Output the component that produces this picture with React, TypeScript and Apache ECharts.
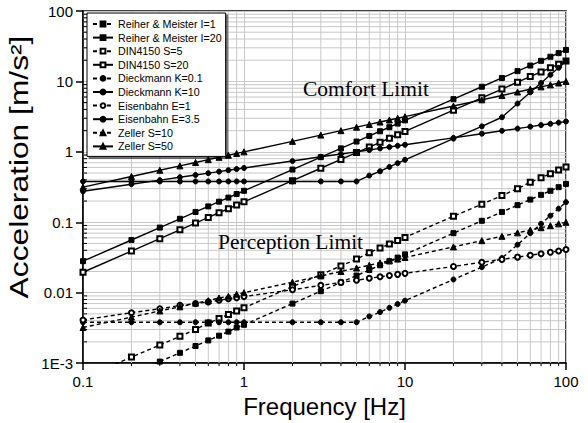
import React, { useEffect, useRef } from "react";
import * as echarts from "echarts";

// Frequencies (Hz) at which every curve is sampled
const freqs = [0.1, 0.2, 0.3, 0.4, 0.5, 0.6, 0.7, 0.8, 0.9, 1, 2, 3, 4, 5, 6, 7, 8, 9, 10, 20, 30, 40, 50, 60, 70, 80, 90, 100];

// Acceleration values [m/s²]
const reiherI1 = [0.00035, 0.0007, 0.00105, 0.0014, 0.00175, 0.0021, 0.00245, 0.0028, 0.0032, 0.0035, 0.007, 0.0105, 0.014, 0.0175, 0.021, 0.0245, 0.028, 0.0315, 0.035, 0.07, 0.105, 0.14, 0.175, 0.21, 0.245, 0.28, 0.315, 0.35];
const reiherI20 = [0.028, 0.056, 0.084, 0.112, 0.14, 0.168, 0.196, 0.224, 0.252, 0.28, 0.56, 0.84, 1.12, 1.4, 1.68, 1.96, 2.24, 2.52, 2.8, 5.6, 8.4, 11.2, 14, 16.8, 19.6, 22.4, 25.2, 28];
const dinS5 = [0.00061, 0.00122, 0.0018, 0.0024, 0.003, 0.0037, 0.0043, 0.0049, 0.0055, 0.0061, 0.0122, 0.018, 0.024, 0.03, 0.037, 0.043, 0.049, 0.055, 0.061, 0.122, 0.18, 0.24, 0.3, 0.37, 0.43, 0.49, 0.55, 0.61];
const dinS20 = [0.0195, 0.039, 0.0585, 0.078, 0.0975, 0.117, 0.1365, 0.156, 0.1755, 0.195, 0.39, 0.585, 0.78, 0.975, 1.17, 1.365, 1.56, 1.755, 1.95, 3.9, 5.85, 7.8, 9.75, 11.7, 13.65, 15.6, 17.55, 19.5];
const dieckK01 = [0.0038, 0.0038, 0.0038, 0.0038, 0.0038, 0.0038, 0.0038, 0.0038, 0.0038, 0.0038, 0.0038, 0.0038, 0.0038, 0.0038, 0.0046, 0.0053, 0.0061, 0.0069, 0.0077, 0.0154, 0.023, 0.031, 0.048, 0.07, 0.095, 0.124, 0.156, 0.193];
const dieckK10 = [0.38, 0.38, 0.38, 0.38, 0.38, 0.38, 0.38, 0.38, 0.38, 0.38, 0.38, 0.38, 0.38, 0.38, 0.46, 0.53, 0.61, 0.69, 0.77, 1.54, 2.3, 3.1, 4.85, 7.0, 9.5, 12.4, 15.6, 19.5];
const eisenE1 = [0.0041, 0.0052, 0.0059, 0.0066, 0.007, 0.0074, 0.0078, 0.0082, 0.0085, 0.0088, 0.011, 0.0127, 0.014, 0.015, 0.016, 0.0168, 0.0175, 0.0182, 0.0188, 0.0236, 0.027, 0.0297, 0.032, 0.034, 0.0358, 0.0374, 0.039, 0.041];
const eisenE35 = [0.276, 0.347, 0.396, 0.436, 0.469, 0.498, 0.524, 0.548, 0.57, 0.59, 0.74, 0.85, 0.93, 1.0, 1.06, 1.12, 1.17, 1.22, 1.26, 1.58, 1.81, 1.99, 2.14, 2.28, 2.4, 2.5, 2.6, 2.7];
const zellerS10 = [0.0032, 0.0045, 0.0055, 0.0063, 0.0071, 0.0077, 0.0084, 0.0089, 0.0095, 0.01, 0.0141, 0.0173, 0.02, 0.0224, 0.0245, 0.0265, 0.0283, 0.03, 0.0316, 0.0447, 0.0548, 0.0632, 0.0707, 0.0775, 0.0837, 0.0894, 0.0949, 0.1];
const zellerS50 = [0.316, 0.447, 0.548, 0.632, 0.707, 0.775, 0.837, 0.894, 0.949, 1.0, 1.41, 1.73, 2.0, 2.24, 2.45, 2.65, 2.83, 3.0, 3.16, 4.47, 5.48, 6.32, 7.07, 7.75, 8.37, 8.94, 9.49, 10];

const seriesNames = [
  "Reiher & Meister I=1",
  "Reiher & Meister I=20",
  "DIN4150 S=5",
  "DIN4150 S=20",
  "Dieckmann K=0.1",
  "Dieckmann K=10",
  "Eisenbahn E=1",
  "Eisenbahn E=3.5",
  "Zeller S=10",
  "Zeller S=50",
];
const seriesValues = [reiherI1, reiherI20, dinS5, dinS20, dieckK01, dieckK10, eisenE1, eisenE35, zellerS10, zellerS50];

// Axis ticks and labels
const xTickValues = [0.1, 1, 10, 100];
const xTickLabels = ["0.1", "1", "10", "100"];
const yTickValues = [0.001, 0.01, 0.1, 1, 10, 100];
const yTickLabels = ["1E-3", "0.01", "0.1", "1", "10", "100"];
const xMinor = [0.2, 0.3, 0.4, 0.5, 0.6, 0.7, 0.8, 0.9, 2, 3, 4, 5, 6, 7, 8, 9, 20, 30, 40, 50, 60, 70, 80, 90];
const yMinor = [
  0.002, 0.003, 0.004, 0.005, 0.006, 0.007, 0.008, 0.009,
  0.02, 0.03, 0.04, 0.05, 0.06, 0.07, 0.08, 0.09,
  0.2, 0.3, 0.4, 0.5, 0.6, 0.7, 0.8, 0.9,
  2, 3, 4, 5, 6, 7, 8, 9,
  20, 30, 40, 50, 60, 70, 80, 90,
];

const styles = [
  { symbol: "rect", dashed: true, size: 5 },
  { symbol: "rect", dashed: false, size: 5 },
  { symbol: "emptyRect", dashed: true, size: 5 },
  { symbol: "emptyRect", dashed: false, size: 5 },
  { symbol: "circle", dashed: true, size: 5 },
  { symbol: "circle", dashed: false, size: 5 },
  { symbol: "emptyCircle", dashed: true, size: 5 },
  { symbol: "circle", dashed: false, size: 5 },
  { symbol: "triangle", dashed: true, size: 6 },
  { symbol: "triangle", dashed: false, size: 6 },
];

const FONT = "'Liberation Sans', Arial, sans-serif";
const SERIF = "'Liberation Serif', 'Times New Roman', serif";
const GRID_COLOR = "#c8c8c8";

function labelFor(values: number[], labels: string[], v: number) {
  let best = 0;
  let bestD = Infinity;
  values.forEach((t, i) => {
    const d = Math.abs(Math.log10(t) - Math.log10(v));
    if (d < bestD) {
      bestD = d;
      best = i;
    }
  });
  return labels[best];
}

export default function App() {
  const ref = useRef<HTMLDivElement>(null);
  useEffect(() => {
    if (!ref.current) return;
    const chart = echarts.init(ref.current, undefined, { renderer: "svg" });

    const dataSeries = seriesNames.map((name, i) => ({
      name,
      type: "line",
      data: freqs.map((f, j) => [f, seriesValues[i][j]]),
      symbol: styles[i].symbol,
      symbolSize: styles[i].size,
      showAllSymbol: true,
      clip: true,
      z: 3,
      lineStyle: { color: "#000", width: 1.4, type: styles[i].dashed ? [4, 3] : "solid" },
      itemStyle: { color: "#000", borderColor: "#000", borderWidth: 1 },
      emphasis: { disabled: true },
    }));

    const option: any = {
      animation: false,
      backgroundColor: "#fff",
      grid: { left: 83, right: 22, top: 11, bottom: 59, show: true, borderColor: "#000", borderWidth: 1.5, backgroundColor: "transparent" },
      xAxis: {
        type: "log",
        logBase: 10,
        min: 0.1,
        max: 100,
        name: "Frequency [Hz]",
        nameLocation: "middle",
        nameGap: 29,
        nameTextStyle: { fontFamily: FONT, fontSize: 24, color: "#000" },
        axisLine: { lineStyle: { color: "#000", width: 1.5 } },
        axisTick: { show: true, length: 7, lineStyle: { color: "#000", width: 1.5 } },
        axisLabel: { fontFamily: FONT, fontSize: 15, color: "#000", margin: 11, formatter: (v: number) => labelFor(xTickValues, xTickLabels, v) },
        splitLine: { show: true, lineStyle: { color: GRID_COLOR, width: 1 } },
      },
      yAxis: {
        type: "log",
        logBase: 10,
        min: 0.001,
        max: 100,
        axisLine: { lineStyle: { color: "#000", width: 1.5 } },
        axisTick: { show: true, length: 7, lineStyle: { color: "#000", width: 1.5 } },
        axisLabel: { fontFamily: FONT, fontSize: 15, color: "#000", margin: 10, formatter: (v: number) => labelFor(yTickValues, yTickLabels, v) },
        splitLine: { show: true, lineStyle: { color: GRID_COLOR, width: 1 } },
      },
      legend: {
        show: true,
        orient: "vertical",
        left: 87,
        top: 13,
        padding: [5, 4, 4, 5],
        itemWidth: 20,
        itemHeight: 6,
        itemGap: 1.6,
        selectedMode: false,
        backgroundColor: "#fff",
        borderColor: "#000",
        borderWidth: 1,
        shadowColor: "rgba(0,0,0,0.55)",
        shadowBlur: 1,
        shadowOffsetX: 2,
        shadowOffsetY: 2,
        textStyle: { fontFamily: FONT, fontSize: 10.7, lineHeight: 12, color: "#000" },
        data: seriesNames,
      },
      graphic: [
        {
          type: "text",
          x: 19,
          y: 167,
          rotation: Math.PI / 2,
          scaleX: 1.27,
          z: 10,
          style: { text: "Acceleration [m/s²]", font: `25px ${FONT}`, fill: "#000", align: "center", verticalAlign: "middle" },
        },
        { type: "text", left: 303, top: 78, z: 10, style: { text: "Comfort Limit", font: `21.5px ${SERIF}`, fill: "#000" } },
        { type: "text", left: 218, top: 231, z: 10, style: { text: "Perception Limit", font: `21.5px ${SERIF}`, fill: "#000" } },
      ],
      series: [
        {
          type: "custom",
          name: "xminor",
          silent: true,
          z: 1,
          clip: false,
          data: xMinor.map((v) => [v, 1]),
          renderItem: (params: any, api: any) => {
            const cs = params.coordSys;
            const x = api.coord([api.value(0), 1])[0];
            return {
              type: "group",
              children: [
                { type: "line", shape: { x1: x, y1: cs.y, x2: x, y2: cs.y + cs.height }, style: { stroke: GRID_COLOR, lineWidth: 1 } },
                { type: "line", shape: { x1: x, y1: cs.y + cs.height, x2: x, y2: cs.y + cs.height + 3 }, style: { stroke: "#000", lineWidth: 1 } },
              ],
            };
          },
        },
        {
          type: "custom",
          name: "yminor",
          silent: true,
          z: 1,
          clip: false,
          data: yMinor.map((v) => [1, v]),
          renderItem: (params: any, api: any) => {
            const cs = params.coordSys;
            const y = api.coord([1, api.value(1)])[1];
            return {
              type: "group",
              children: [
                { type: "line", shape: { x1: cs.x, y1: y, x2: cs.x + cs.width, y2: y }, style: { stroke: GRID_COLOR, lineWidth: 1 } },
                { type: "line", shape: { x1: cs.x, y1: y, x2: cs.x + 4, y2: y }, style: { stroke: "#000", lineWidth: 1 } },
              ],
            };
          },
        },
        ...dataSeries,
      ],
    };

    chart.setOption(option);
    return () => chart.dispose();
  }, []);

  return <div ref={ref} style={{ position: "fixed", left: 0, top: 0, width: 588, height: 423, background: "#fff" }} />;
}
